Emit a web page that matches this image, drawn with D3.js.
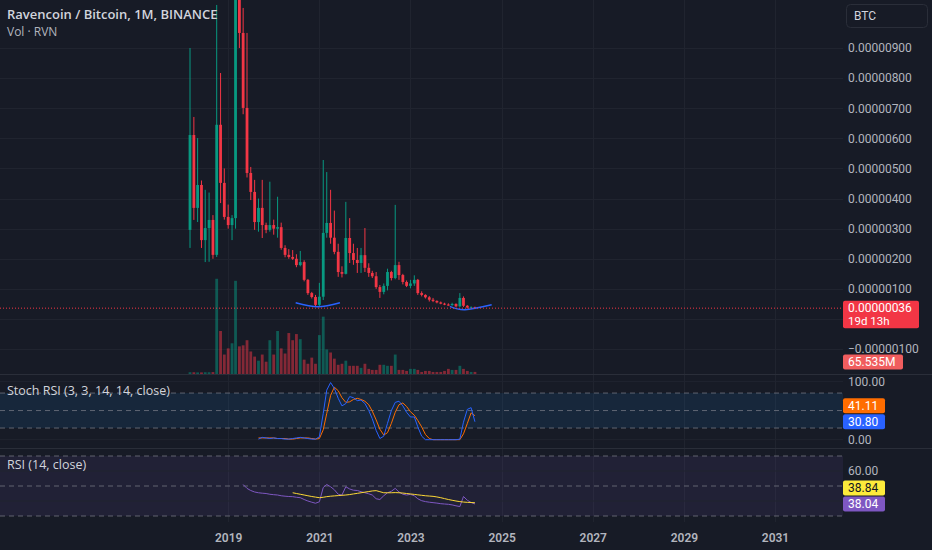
<!DOCTYPE html>
<html>
<head>
<meta charset="utf-8">
<script src="https://cdn.jsdelivr.net/npm/d3@7"></script>
<style>
  html, body { margin: 0; padding: 0; background: #171b26; }
  svg { display: block; font-family: Roboto, "Noto Sans", sans-serif; }
</style>
</head>
<body>
<div id="chart"></div>
<script>
// monthly RVN/BTC candles, first bar Mar 2018, prices in satoshi (1e-8 BTC)
const firstBar = Date.UTC(2018, 2, 1);
const opens = [296, 611, 369, 445, 262, 302, 329, 213, 645, 452,
  339, 312, 335, 1150, 950, 701, 485, 422, 322, 369,
  312, 296, 312, 300, 305, 236, 213, 206, 200, 179,
  189, 130, 86, 73, 47, 74, 286, 319, 270, 223,
  156, 150, 269, 219, 196, 186, 212, 170, 153, 142,
  106, 90, 110, 156, 136, 179, 146, 123, 110, 118,
  130, 86, 80, 72, 64, 60, 55, 51, 48, 46,
  50, 42, 70, 44, 38, 39];
const highs = [900, 671, 601, 460, 429, 420, 345, 1043, 817, 500,
  380, 345, 1300, 1250, 1033, 950, 505, 462, 400, 462,
  320, 456, 330, 406, 320, 245, 232, 229, 215, 226,
  195, 133, 90, 80, 120, 528, 488, 429, 360, 250,
  175, 389, 335, 250, 236, 236, 302, 185, 160, 156,
  113, 118, 167, 160, 379, 190, 150, 128, 130, 145,
  133, 92, 82, 76, 70, 62, 58, 54, 52, 54,
  52, 86, 75, 46, 42, 41];
const lows = [236, 329, 322, 236, 189, 190, 200, 206, 385, 330,
  300, 262, 300, 900, 680, 470, 395, 296, 290, 269,
  285, 290, 280, 270, 230, 205, 200, 196, 172, 175,
  125, 80, 68, 42, 40, 63, 270, 250, 215, 140,
  138, 148, 186, 180, 153, 153, 156, 140, 136, 100,
  70, 82, 95, 128, 132, 130, 115, 106, 102, 110,
  80, 75, 68, 58, 56, 52, 49, 46, 44, 44,
  40, 40, 40, 35, 35, 34];
const closes = [611, 369, 445, 262, 302, 329, 213, 645, 452, 339,
  312, 335, 1150, 950, 701, 485, 422, 322, 369, 312,
  296, 312, 300, 305, 236, 213, 206, 200, 179, 189,
  130, 86, 73, 47, 74, 286, 319, 270, 223, 156,
  150, 269, 219, 196, 186, 212, 170, 153, 142, 106,
  90, 110, 156, 136, 179, 146, 123, 110, 118, 130,
  86, 80, 72, 64, 60, 55, 51, 48, 46, 50,
  42, 70, 44, 38, 39, 36];
// volume in millions of RVN
const volumes = [55, 55, 50, 50, 55, 55, 60, 2976, 1344, 608,
  800, 960, 2912, 864, 896, 1056, 704, 544, 416, 608,
  384, 1056, 608, 1344, 800, 640, 1280, 1056, 1248, 1088,
  448, 320, 512, 320, 1216, 1792, 768, 672, 480, 288,
  320, 416, 256, 256, 256, 192, 320, 160, 128, 128,
  288, 288, 256, 256, 608, 128, 128, 96, 160, 160,
  128, 64, 96, 96, 64, 64, 64, 96, 160, 128,
  128, 256, 160, 96, 64, 65.535];

// Stoch RSI (3, 3, 14, 14), first value on bar 18
const stochStart = 18;
const stochK = [1, 4, 3, 2, 3, 2, 2, 1, 1, 2, 3, 4, 3, 2, 1, 1, 5, 45, 85, 98,
  88, 71, 58, 62, 74, 72, 67, 68, 62, 50, 36, 16, 2, 6, 28, 50, 64, 66, 58, 47,
  39, 39, 22, 6, 0, 0, 0, 0, 0, 0, 0, 0, 0, 1, 30, 52, 55, 30.80];
const stochD = [3, 3, 3, 3, 3, 2, 2, 2, 1, 1, 2, 3, 3, 3, 2, 1, 2, 17, 45, 76,
  90, 84, 72, 64, 65, 69, 71, 69, 66, 60, 49, 34, 18, 8, 12, 28, 47, 60, 63, 57,
  48, 42, 33, 22, 9, 2, 0, 0, 0, 0, 0, 0, 0, 0, 10, 28, 46, 41.11];

// RSI (14) from bar 14, its moving average from bar 27
const rsiStart = 14;
const rsiValues = [51, 48.4, 47, 46, 45.5, 45.2, 45, 44.5, 44.2, 44,
  43.5, 43.2, 43, 42.9, 42.5, 42.2, 41, 40, 39.2, 38.5,
  39.5, 49, 51, 49.5, 47.5, 44.5, 44, 49.5, 48, 47.2,
  47, 46.2, 45.5, 44.8, 44, 41.5, 41, 43.5, 45.5, 46.5,
  48.4, 46, 44.5, 44, 44.4, 43.5, 41.5, 40.2, 39.6, 39.2,
  38.9, 38.6, 38.2, 38, 37.8, 37.4, 36.8, 36.3, 43, 40.5,
  39, 38.04];
const rsiMaStart = 27;
const rsiMa = [45.5, 45, 44.5, 44, 43.5, 43, 42.6, 42.2, 42.5, 42.9,
  43.2, 43.4, 43.6, 43.8, 44, 44.3, 44.7, 45.1, 45.5, 45.9,
  46.3, 46.7, 46.9, 46.2, 45.5, 45.5, 45.5, 45.6, 45.5, 45.3,
  45, 44.7, 44.4, 44.1, 43.8, 43.5, 43.3, 43.1, 42.7, 42.2,
  41.6, 41, 40.5, 40, 39.6, 39.3, 39.1, 39, 38.84];

// hand-drawn arcs (date, price in sat)
const arc1Dates = ["2020-06-25", "2020-12-20", "2021-06-15"];
const arc1Prices = [54, 41, 54];
const arc2Dates = ["2023-11-13", "2024-03-13", "2024-10-13"];
const arc2Prices = [42, 31, 47];

const yearTicks = [2019, 2021, 2023, 2025, 2027, 2029, 2031];
const priceTicks = [-100, 0, 100, 200, 300, 400, 500, 600, 700, 800, 900];
const stochTicks = [0, 100];
const stochLevels = [80, 50, 20];
const rsiTicks = [60];
const rsiGrid = [60, 40];
const rsiLevels = [70, 50, 30];
const timerText = "19d 13h";
const volumeText = "65.535M";

const width = 932;
const height = 550;
const axisX = 843;
const main = { top: 0, bottom: 374 };
const stochPane = { top: 375, bottom: 448 };
const rsiPane = { top: 449, bottom: 522 };

const green = "#089981";
const red = "#f23645";
const gridColor = "#20242f";
const textColor = "#b2b5be";

const candles = opens.map((o, i) => ({
  date: d3.utcMonth.offset(new Date(firstBar), i),
  open: o,
  high: highs[i],
  low: lows[i],
  close: closes[i],
  volume: volumes[i],
}));
const last = candles[candles.length - 1];

const svg = d3
  .select("#chart")
  .append("svg")
  .attr("width", width)
  .attr("height", height)
  .attr("viewBox", `0 0 ${width} ${height}`);

svg.append("rect").attr("width", width).attr("height", height).attr("fill", "#171b26");

const x = d3
  .scaleUtc()
  .domain([new Date(firstBar), new Date(Date.UTC(2031, 0, 1))])
  .range([190, 775]);
const y = d3.scaleLinear().domain([0, 900]).range([319, 48]);
const yVol = d3.scaleLinear().domain([0, 3000]).range([main.bottom, 278]);
const yStoch = d3.scaleLinear().domain([0, 100]).range([439.7, 381.4]);
const yRsi = d3.scaleLinear().domain([30, 70]).range([516, 456]);

const barW = 2.8;

// grid
const grid = svg.append("g");
grid
  .selectAll("line.v")
  .data(yearTicks)
  .join("line")
  .attr("x1", (d) => Math.round(x(new Date(Date.UTC(d, 0, 1)))) + 0.5)
  .attr("x2", (d) => Math.round(x(new Date(Date.UTC(d, 0, 1)))) + 0.5)
  .attr("y1", 0)
  .attr("y2", rsiPane.bottom)
  .attr("stroke", gridColor);
grid
  .selectAll("line.p")
  .data(priceTicks)
  .join("line")
  .attr("x1", 0)
  .attr("x2", axisX)
  .attr("y1", (d) => Math.round(y(d)) + 0.5)
  .attr("y2", (d) => Math.round(y(d)) + 0.5)
  .attr("stroke", gridColor);

// stoch pane band and levels
svg
  .append("rect")
  .attr("x", 0)
  .attr("width", axisX)
  .attr("y", yStoch(80))
  .attr("height", yStoch(20) - yStoch(80))
  .attr("fill", "rgba(33,150,243,0.1)");
svg
  .append("g")
  .selectAll("line")
  .data(stochTicks)
  .join("line")
  .attr("x1", 0)
  .attr("x2", axisX)
  .attr("y1", (d) => yStoch(d))
  .attr("y2", (d) => yStoch(d))
  .attr("stroke", gridColor);
svg
  .append("g")
  .selectAll("line")
  .data(stochLevels)
  .join("line")
  .attr("x1", 0)
  .attr("x2", axisX)
  .attr("y1", (d) => yStoch(d))
  .attr("y2", (d) => yStoch(d))
  .attr("stroke", "#787b86")
  .attr("stroke-opacity", 0.75)
  .attr("stroke-dasharray", "5,4");

// rsi pane band and levels
svg
  .append("rect")
  .attr("x", 0)
  .attr("width", axisX)
  .attr("y", yRsi(70))
  .attr("height", yRsi(30) - yRsi(70))
  .attr("fill", "rgba(126,87,194,0.1)");
svg
  .append("g")
  .selectAll("line")
  .data(rsiGrid)
  .join("line")
  .attr("x1", 0)
  .attr("x2", axisX)
  .attr("y1", (d) => yRsi(d))
  .attr("y2", (d) => yRsi(d))
  .attr("stroke", gridColor);
svg
  .append("g")
  .selectAll("line")
  .data(rsiLevels)
  .join("line")
  .attr("x1", 0)
  .attr("x2", axisX)
  .attr("y1", (d) => yRsi(d))
  .attr("y2", (d) => yRsi(d))
  .attr("stroke", "#787b86")
  .attr("stroke-opacity", 0.75)
  .attr("stroke-dasharray", "5,4");

// main pane
svg
  .append("clipPath")
  .attr("id", "mainClip")
  .append("rect")
  .attr("width", axisX)
  .attr("height", main.bottom);
const mainG = svg.append("g").attr("clip-path", "url(#mainClip)");

mainG
  .selectAll("rect.vol")
  .data(candles)
  .join("rect")
  .attr("x", (d) => x(d.date) - barW / 2)
  .attr("width", barW)
  .attr("y", (d) => yVol(d.volume))
  .attr("height", (d) => main.bottom - yVol(d.volume))
  .attr("fill", (d) => (d.close >= d.open ? green : red))
  .attr("fill-opacity", 0.5);

mainG
  .selectAll("line.wick")
  .data(candles)
  .join("line")
  .attr("x1", (d) => x(d.date))
  .attr("x2", (d) => x(d.date))
  .attr("y1", (d) => y(d.high))
  .attr("y2", (d) => y(d.low))
  .attr("stroke", (d) => (d.close >= d.open ? green : red))
  .attr("stroke-width", 1);

mainG
  .selectAll("rect.body")
  .data(candles)
  .join("rect")
  .attr("x", (d) => x(d.date) - barW / 2)
  .attr("width", barW)
  .attr("y", (d) => y(Math.max(d.open, d.close)))
  .attr("height", (d) => Math.max(1, Math.abs(y(d.open) - y(d.close))))
  .attr("fill", (d) => (d.close >= d.open ? green : red));

const arcLine = d3
  .line()
  .x((d) => x(d[0]))
  .y((d) => y(d[1]))
  .curve(d3.curveNatural);
[
  [arc1Dates, arc1Prices],
  [arc2Dates, arc2Prices],
].forEach(([dates, prices]) => {
  mainG
    .append("path")
    .datum(dates.map((s, i) => [new Date(s + "T00:00:00Z"), prices[i]]))
    .attr("fill", "none")
    .attr("stroke", "#2962ff")
    .attr("stroke-width", 1.5)
    .attr("d", arcLine);
});

mainG
  .append("line")
  .attr("x1", 0)
  .attr("x2", axisX)
  .attr("y1", y(last.close))
  .attr("y2", y(last.close))
  .attr("stroke", red)
  .attr("stroke-dasharray", "1,2");

// indicator lines
const stochLine = (arr) =>
  d3
    .line()
    .x((d, i) => x(candles[stochStart + i].date))
    .y((d) => yStoch(d))(arr);
svg.append("path").attr("d", stochLine(stochD)).attr("fill", "none").attr("stroke", "#ff6d00").attr("stroke-width", 1);
svg.append("path").attr("d", stochLine(stochK)).attr("fill", "none").attr("stroke", "#2962ff").attr("stroke-width", 1);

const rsiLine = d3
  .line()
  .x((d, i) => x(candles[rsiStart + i].date))
  .y((d) => yRsi(d));
const rsiMaLine = d3
  .line()
  .x((d, i) => x(candles[rsiMaStart + i].date))
  .y((d) => yRsi(d));
svg.append("path").attr("d", rsiLine(rsiValues)).attr("fill", "none").attr("stroke", "#7e57c2").attr("stroke-width", 1);
svg.append("path").attr("d", rsiMaLine(rsiMa)).attr("fill", "none").attr("stroke", "#fdd835").attr("stroke-width", 1);

// pane separators
svg
  .append("g")
  .selectAll("line")
  .data([main.bottom + 0.5, stochPane.bottom + 0.5])
  .join("line")
  .attr("x1", 0)
  .attr("x2", width)
  .attr("y1", (d) => d)
  .attr("y2", (d) => d)
  .attr("stroke", "#2a2e39");

// axes
const priceFmt = (v) => (v < 0 ? "\u2212" : "") + (Math.abs(v) / 1e8).toFixed(8);
function styleAxis(sel) {
  sel.select(".domain").remove();
  sel.selectAll("text").attr("fill", textColor).style("font-size", "12px").style("font-family", "Roboto, sans-serif");
}
// price labels hidden behind the last-price tag are left out, as on the original
const priceLabelTicks = priceTicks.filter((d) => Math.abs(y(d) - y(last.close)) > 16);
svg
  .append("g")
  .attr("transform", `translate(${axisX},0)`)
  .call(d3.axisRight(y).tickValues(priceLabelTicks).tickSize(0).tickPadding(5).tickFormat(priceFmt))
  .call(styleAxis);
svg
  .append("g")
  .attr("transform", `translate(${axisX},0)`)
  .call(d3.axisRight(yStoch).tickValues(stochTicks).tickSize(0).tickPadding(5).tickFormat((d) => d.toFixed(2)))
  .call(styleAxis);
svg
  .append("g")
  .attr("transform", `translate(${axisX},0)`)
  .call(d3.axisRight(yRsi).tickValues(rsiTicks).tickSize(0).tickPadding(5).tickFormat((d) => d.toFixed(2)))
  .call(styleAxis);
svg
  .append("g")
  .attr("transform", `translate(0,${rsiPane.bottom + 8})`)
  .call(
    d3
      .axisBottom(x)
      .tickValues(yearTicks.map((d) => new Date(Date.UTC(d, 0, 1))))
      .tickSize(0)
      .tickFormat(d3.utcFormat("%Y")),
  )
  .call(styleAxis)
  .selectAll("text")
  .style("font-weight", 600);

// value tags on the right axis
function tag(cy, lines, fill, color, w, lineH = 12) {
  const h = 15 + (lines.length - 1) * lineH;
  const g = svg.append("g");
  g.append("rect")
    .attr("x", axisX)
    .attr("y", cy - 7.5)
    .attr("width", w)
    .attr("height", h)
    .attr("rx", 2)
    .attr("fill", fill);
  lines.forEach((t, i) => {
    g.append("text")
      .attr("x", axisX + 5)
      .attr("y", cy + i * lineH)
      .attr("dy", "0.35em")
      .attr("fill", color)
      .style("font-size", i > 0 ? "11.5px" : "12px")
      .text(t);
  });
}
// place two tags, pushing the upper one up when they overlap
function tagPair(scale, a, b, w) {
  let ya = scale(a.v);
  let yb = scale(b.v);
  if (ya > yb) [a, b, ya, yb] = [b, a, yb, ya];
  if (yb - ya < 16) ya = yb - 16;
  tag(ya, [a.v.toFixed(2)], a.fill, a.color, w);
  tag(yb, [b.v.toFixed(2)], b.fill, b.color, w);
}

const volTagY = Math.min(yVol(last.volume), main.bottom - 12);
tag(volTagY, [volumeText], "#f05d5e", "#ffffff", 60);
tag(y(last.close), [priceFmt(last.close), timerText], red, "#ffffff", 76, 12.5);
tagPair(
  yStoch,
  { v: stochD[stochD.length - 1], fill: "#ff6d00", color: "#ffffff" },
  { v: stochK[stochK.length - 1], fill: "#2962ff", color: "#ffffff" },
  42,
);
tagPair(
  yRsi,
  { v: rsiMa[rsiMa.length - 1], fill: "#fdeb3b", color: "#131722" },
  { v: rsiValues[rsiValues.length - 1], fill: "#7e57c2", color: "#ffffff" },
  42,
);

// currency box
svg
  .append("rect")
  .attr("x", 846.5)
  .attr("y", 4.5)
  .attr("width", 81)
  .attr("height", 23)
  .attr("rx", 4)
  .attr("fill", "#171b26")
  .attr("stroke", "#2a2e39");
svg
  .append("text")
  .attr("x", 854)
  .attr("y", 16)
  .attr("dy", "0.36em")
  .attr("fill", "#d1d4dc")
  .style("font-size", "12px")
  .text("BTC");

// legends
const legend = svg.append("g").style("font-family", "'Open Sans', 'Noto Sans', sans-serif");
legend
  .append("text")
  .attr("x", 7)
  .attr("y", 14)
  .attr("dy", "0.36em")
  .attr("fill", "#d1d4dc")
  .style("font-size", "13px")
  .style("font-weight", 600)
  .text("Ravencoin / Bitcoin, 1M, BINANCE");
legend
  .append("text")
  .attr("x", 7)
  .attr("y", 32)
  .attr("dy", "0.36em")
  .attr("fill", textColor)
  .style("font-size", "12px")
  .text("Vol \u00b7 RVN");
legend
  .append("text")
  .attr("x", 7)
  .attr("y", 390)
  .attr("dy", "0.36em")
  .attr("fill", "#d1d4dc")
  .style("font-size", "12.5px")
  .text("Stoch RSI (3, 3, 14, 14, close)");
legend
  .append("text")
  .attr("x", 7)
  .attr("y", 464)
  .attr("dy", "0.36em")
  .attr("fill", "#d1d4dc")
  .style("font-size", "12.5px")
  .text("RSI (14, close)");
</script>
</body>
</html>
